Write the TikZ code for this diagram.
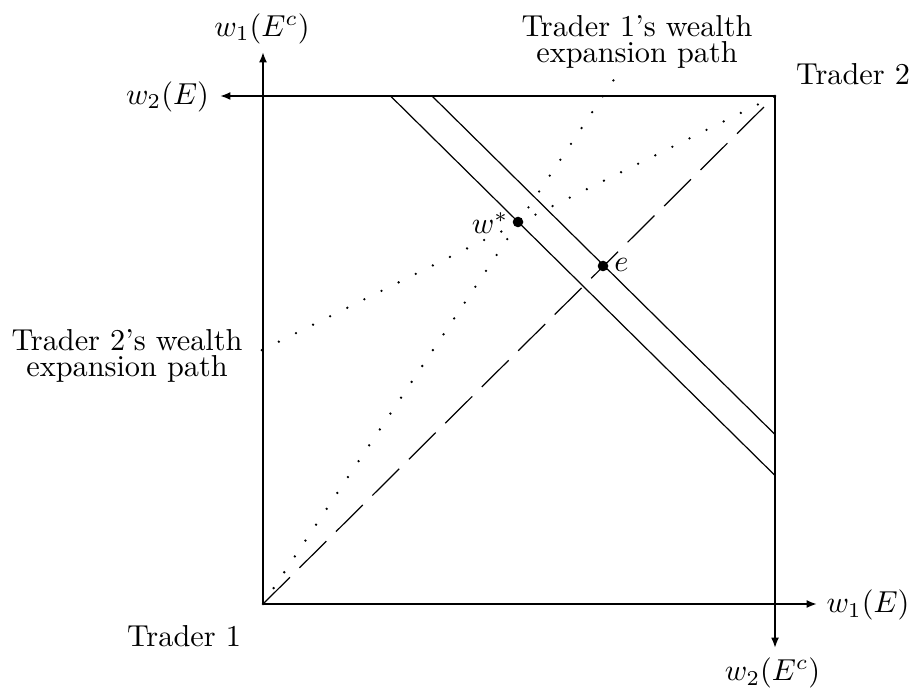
\documentclass[tikz,border=0pt]{standalone}
\usetikzlibrary{arrows.meta}
\begin{document}
\begin{tikzpicture}[x=0.33pt,y=-0.33pt,
  axisline/.style={line width=0.6pt,-{Latex[length=3.4pt,width=2.6pt]}},
  budget/.style={line width=0.4pt},
  diagline/.style={line width=0.4pt,dash pattern=on 12.5pt off 4.45pt},
  expath/.style={line width=0.85pt,line cap=round,dash pattern=on 0pt off 6.3pt},
  bigdot/.style={circle,fill=black,inner sep=0pt,minimum size=3.5pt},
  lbl/.style={inner sep=0pt},
  twoline/.style={inner sep=0pt,align=center,font=\fontsize{10}{8.6}\selectfont}]
\useasboundingbox (0,0) rectangle (915,688);
% corners and ends
\coordinate (O1) at (263,604);
\coordinate (O2) at (775,96);
\coordinate (upTip) at (263,52);
\coordinate (rightTip) at (817,604);
\coordinate (leftTip) at (220,96);
\coordinate (downTip) at (775,648);
\coordinate (A1) at (432,96);
\coordinate (A2) at (775,434.5);
\coordinate (B1) at (390.5,96);
\coordinate (B2) at (775,475.5);
\coordinate (T1end) at (614.6,78.6);
\coordinate (T2end) at (245.6,358.1);
% expansion paths
\draw[expath] (O1) -- (T1end);
\draw[expath] (O2) -- (T2end);
% budget lines
\draw[budget] (A1) -- (A2);
\draw[budget] (B1) -- (B2);
% diagonal
\draw[diagline] (O1) -- (O2);
% axes / box
\draw[axisline] (O1) -- (upTip);
\draw[axisline] (O1) -- (rightTip);
\draw[axisline] (O2) -- (leftTip);
\draw[axisline] (O2) -- (downTip);
% points
\node[bigdot] (wstar) at (518,222) {};
\node[bigdot] (e) at (603,266) {};
\node[lbl] (wstarlbl) at (490,223) {$w^*$};
\node[lbl] (elbl) at (621.5,265) {$e$};
% axis labels
\node[lbl] (w1Ec) at (262,28.5) {$w_1(E^c)$};
\node[lbl] (w2E) at (167.5,96.5) {$w_2(E)$};
\node[lbl] (w1E) at (868,605) {$w_1(E)$};
\node[lbl] (w2Ec) at (772.5,673) {$w_2(E^c)$};
\node[lbl] (tr2) at (853,74) {Trader 2};
\node[lbl] (tr1) at (184,636.5) {Trader 1};
\node[twoline] (p1) at (637,41.5) {Trader 1's wealth\\expansion path};
\node[twoline] (p2) at (127,356) {Trader 2's wealth\\expansion path};
\end{tikzpicture}
\end{document}
